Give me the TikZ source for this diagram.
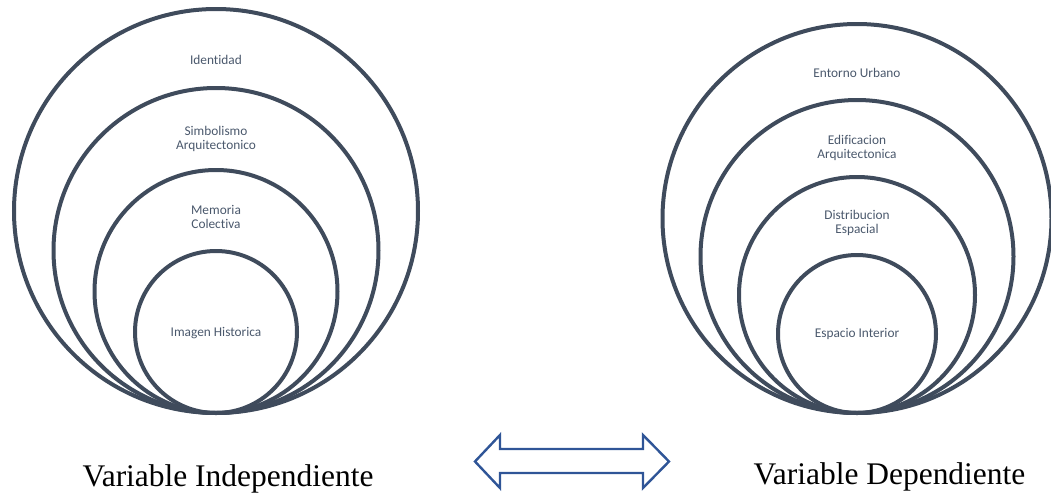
\documentclass[tikz,border=0pt]{standalone}
\usepackage{fontspec}
\setmainfont{Liberation Serif}
\newfontfamily\ringfont[Ligatures=NoCommon]{Carlito}
\usetikzlibrary{positioning}
\definecolor{ringgray}{HTML}{3F4B5C}
\definecolor{ringtext}{HTML}{4A586C}
\definecolor{arrowblue}{HTML}{2F5597}

\begin{document}
\begin{tikzpicture}[x=0.75pt,y=-0.75pt, ring/.style={line width=3pt,draw=ringgray}, ring label/.style={font=\ringfont\fontsize{10}{10.5}\selectfont,text=ringtext,align=center,inner sep=0pt}, var label/.style={font=\fontsize{23.6}{28}\selectfont,anchor=base,inner sep=0pt}]

\useasboundingbox (0,0) rectangle (1051,500);

% variable independiente
\begin{scope}
\coordinate (i1) at (216,211);
\coordinate (i2) at (216,250.5);
\coordinate (i3) at (216,291.5);
\coordinate (i4) at (216,332);

\draw[ring] (i1) circle (202);
\draw[ring] (i2) circle (162.5);
\draw[ring] (i3) circle (121.5);
\draw[ring] (i4) circle (81);

\node[ring label] (identidad) at (216,60) {Identidad};
\node[ring label] (simbolismo) at (216,139) {Simbolismo\\Arquitectonico};
\node[ring label] (memoria) at (216,217) {Memoria\\Colectiva};
\node[ring label] (imagen) at (216,333) {Imagen Historica};

\node[var label] (independiente) at (228,486) {Variable Independiente};
\end{scope}

% variable dependiente
\begin{scope}
\coordinate (d1) at (857,218.5);
\coordinate (d2) at (857,256.5);
\coordinate (d3) at (857,295);
\coordinate (d4) at (857,334);

\draw[ring] (d1) circle (194.5);
\draw[ring] (d2) circle (156.5);
\draw[ring] (d3) circle (118);
\draw[ring] (d4) circle (79);

\node[ring label] (entorno) at (857,73) {Entorno Urbano};
\node[ring label] (edificacion) at (857,148) {Edificacion\\Arquitectonica};
\node[ring label] (distribucion) at (857,223) {Distribucion\\Espacial};
\node[ring label] (espacio) at (857,334) {Espacio Interior};

\node[var label] (dependiente) at (889.5,484) {Variable Dependiente};
\end{scope}

% flecha doble
\coordinate (tipl) at (475,461.5);
\coordinate (tipr) at (669,461.5);
\draw[line width=1.8pt,draw=arrowblue,line join=miter] (tipl) -- (500,435) -- (500,449) -- (643,449) -- (643,435) -- (tipr)
  -- (643,488) -- (643,473) -- (500,473) -- (500,488) -- cycle;

\end{tikzpicture}
\end{document}
